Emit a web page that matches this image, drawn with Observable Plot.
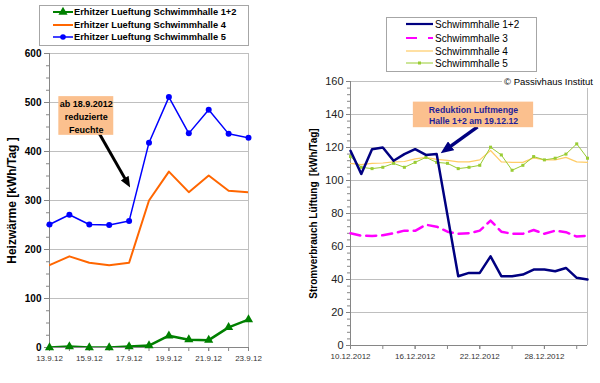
<!DOCTYPE html>
<html>
<head>
<meta charset="utf-8">
<script src="https://cdn.jsdelivr.net/npm/d3@7"></script>
<script src="https://cdn.jsdelivr.net/npm/@observablehq/plot@0.6"></script>
<style>
html,body{margin:0;padding:0;background:#fff;}
#wrap{position:relative;width:600px;height:383px;overflow:hidden;font-family:"Liberation Sans",Arial,sans-serif;}
#wrap > svg{position:absolute;top:0;}
.box{position:absolute;border:1px solid #a6a6a6;background:#fff;box-sizing:border-box;}
.item{position:absolute;white-space:nowrap;color:#000;}
.sym{position:absolute;overflow:visible;}
</style>
</head>
<body>
<div id="wrap"></div>
<script>
// ---------------- data: left panel (Heizwärme) ----------------
const daysLeft = ["2012-09-13","2012-09-14","2012-09-15","2012-09-16","2012-09-17","2012-09-18",
                  "2012-09-19","2012-09-20","2012-09-21","2012-09-22","2012-09-23","2012-09-24"];
const erhitzer12 = [0, 2, 0, 0, 2, 4, 24, 16, 15, 41, 57, 18];
const erhitzer4  = [168, 186, 173, 168, 173, 300, 359, 317, 351, 320, 317, 355];
const erhitzer5  = [251, 271, 251, 250, 258, 418, 511, 437, 485, 436, 428, 570];
const leftSeriesNames = ["Erhitzer Lueftung Schwimmhalle 1+2","Erhitzer Lueftung Schwimmhalle 4","Erhitzer Lueftung Schwimmhalle 5"];
const leftAxisEnd = "2012-09-23";
const leftYTicks = [0, 100, 200, 300, 400, 500, 600];
const leftYMinor = [25,50,75,125,150,175,225,250,275,325,350,375,425,450,475,525,550,575];
const leftXLabels = ["2012-09-13","2012-09-15","2012-09-17","2012-09-19","2012-09-21","2012-09-23"];
const leftYLabel = "Heizwärme [kWh/Tag ]";
const leftNote = [{text:"ab 18.9.2012\nreduzierte\nFeuchte",
  bx1:"2012-09-13T11:15", bx2:"2012-09-16T05:30", by1:433, by2:512,
  ax1:"2012-09-15T11:00", ay1:440, ax2:"2012-09-16T21:20", ay2:338}];

// ---------------- data: right panel (Stromverbrauch) ----------------
const daysRight = ["2012-12-10","2012-12-11","2012-12-12","2012-12-13","2012-12-14","2012-12-15",
  "2012-12-16","2012-12-17","2012-12-18","2012-12-19","2012-12-20","2012-12-21","2012-12-22",
  "2012-12-23","2012-12-24","2012-12-25","2012-12-26","2012-12-27","2012-12-28","2012-12-29",
  "2012-12-30","2012-12-31","2013-01-01"];
const halle12 = [118,104,119,120,112,116,119,115.5,116,79,42,44,44,54,42,42,43,46,46,45,47,41,40];
const halle3  = [68,66.5,66.4,66.8,68,69.6,69.5,73.2,72,69,67.7,68,69.6,75.7,69,67.7,67.7,70,67.7,69.6,68.7,66,66.5];
const halle4  = [110.4,109.6,110.4,110.6,111.3,111.5,113.1,114,112.8,112.2,111.3,111.3,112.5,118.2,111.3,111,111,113.7,112.5,112.5,114,111.3,111];
const halle5  = [114.5,108,107.2,108,110.4,108,111,114,111,110.4,107.2,108,109.2,120.2,115.5,106.2,109.2,114.5,112.5,113.5,116,122.2,113.5];
const rightSeriesNames = ["Schwimmhalle 1+2","Schwimmhalle 3","Schwimmhalle 4","Schwimmhalle 5"];
const rightYTicks = [0,20,40,60,80,100,120,140,160];
const rightYMinor = [4,8,12,16,24,28,32,36,44,48,52,56,64,68,72,76,84,88,92,96,104,108,112,116,124,128,132,136,144,148,152,156];
const rightXTickDays = ["2012-12-10","2012-12-13","2012-12-16","2012-12-19","2012-12-22","2012-12-25","2012-12-28","2012-12-31"];
const rightXLabels = ["2012-12-10","2012-12-16","2012-12-22","2012-12-28"];
const rightYLabel = "Stromverbrauch Lüftung  [kWh/Tag]";
const rightNote = [{text:"Reduktion Luftmenge\nHalle 1+2 am 19.12.12",
  bx1:"2012-12-15T20:00", bx2:"2012-12-27T00:00", by1:132, by2:147.5,
  ax1:"2012-12-21T19:00", ay1:132.5, ax2:"2012-12-18T23:00", ay2:119.2}];
const copyright = "© Passivhaus Institut";

// ---------------- styles ----------------
const FONT = "Liberation Sans, Arial, sans-serif";
const GRID = "#bfbfbf", AXIS = "#868686", PEACH = "#fbc08e";
const GREEN = "#008000", ORANGE = "#ff6600", BLUE = "#0000ff";
const NAVY = "#000080", MAGENTA = "#ff00ff", GOLD = "#ffcc66", LIME = "#99cc33";

const parse = d3.utcParse("%Y-%m-%d");
const parseT = d3.utcParse("%Y-%m-%dT%H:%M");
const P = s => s.length > 10 ? parseT(s) : parse(s);

function arrowHead(svg, color, len, wid, id) {
  const ns = "http://www.w3.org/2000/svg";
  const defs = document.createElementNS(ns, "defs");
  const m = document.createElementNS(ns, "marker");
  m.setAttribute("id", id);
  m.setAttribute("viewBox", "0 0 10 10");
  m.setAttribute("refX", "4"); m.setAttribute("refY", "5");
  m.setAttribute("markerUnits", "userSpaceOnUse");
  m.setAttribute("markerWidth", len); m.setAttribute("markerHeight", wid);
  m.setAttribute("orient", "auto"); m.setAttribute("preserveAspectRatio", "none");
  const p = document.createElementNS(ns, "path");
  p.setAttribute("d", "M0,0L10,5L0,10Z"); p.setAttribute("fill", color);
  m.appendChild(p); defs.appendChild(m); svg.insertBefore(defs, svg.firstChild);
  svg.querySelectorAll('g[aria-label="link"] path, g[aria-label="link"] line')
     .forEach(el => el.setAttribute("marker-end", `url(#${id})`));
}

// ---------------- left chart ----------------
const leftData = daysLeft.map((d, i) => ({date: parse(d), a: erhitzer12[i], b: erhitzer4[i], c: erhitzer5[i]}));
const xL0 = parse(daysLeft[0]), xL1 = parse(leftAxisEnd);
const inL = leftData.filter(d => d.date <= xL1);
const fmtL = d3.utcFormat("%-d.%-m.%y");

const left = Plot.plot({
  width: 300, height: 383,
  marginLeft: 49, marginRight: 52, marginTop: 53, marginBottom: 36,
  style: {fontFamily: FONT, background: "none", overflow: "visible"},
  x: {type: "utc", domain: [xL0, xL1]},
  y: {domain: [0, 600]},
  marks: [
    Plot.ruleY(leftYTicks.filter(v => v > 0), {stroke: GRID}),
    Plot.ruleX([xL1], {stroke: GRID}),
    Plot.axisY(leftYMinor, {tickSize: 3, tickFormat: () => "", stroke: AXIS, label: null}),
    Plot.axisY(leftYTicks, {tickSize: 5, tickPadding: 3, stroke: AXIS, fill: "#000", fontSize: 10, fontWeight: "bold", label: null}),
    Plot.axisX(inL.map(d => d.date), {tickSize: 4, tickFormat: () => "", stroke: AXIS, label: null}),
    Plot.axisX(leftXLabels.map(parse), {tickSize: 4, tickPadding: 4, tickFormat: fmtL, stroke: AXIS, fill: "#333", fontSize: 8, label: null}),
    Plot.ruleX([xL0], {stroke: AXIS}),
    Plot.ruleY([0], {stroke: AXIS}),
    Plot.text([leftYLabel], {text: d => d, frameAnchor: "left", textAnchor: "middle", dx: -37, rotate: -90, fontSize: 12, fontWeight: "bold", fill: "#000"}),
    Plot.line(leftData, {x: "date", y: "b", stroke: ORANGE, strokeWidth: 2, clip: true}),
    Plot.line(leftData, {x: "date", y: "c", stroke: BLUE, strokeWidth: 1.5, clip: true}),
    Plot.dot(inL, {x: "date", y: "c", r: 3, fill: BLUE}),
    Plot.line(leftData, {x: "date", y: "a", stroke: GREEN, strokeWidth: 2.5, clip: true}),
    Plot.dot(inL, {x: "date", y: "a", symbol: "triangle", r: 3.4, fill: GREEN}),
    Plot.link(leftNote, {x1: d => P(d.ax1), y1: "ay1", x2: d => P(d.ax2), y2: "ay2", stroke: "#000", strokeWidth: 3}),
    Plot.rect(leftNote, {x1: d => P(d.bx1), x2: d => P(d.bx2), y1: "by1", y2: "by2", fill: PEACH}),
    Plot.text(leftNote, {x: d => new Date((+P(d.bx1) + +P(d.bx2)) / 2), y: d => (d.by1 + d.by2) / 2, text: "text",
      fontWeight: "bold", fontSize: 9, lineHeight: 1.4, fill: "#000"})
  ]
});
left.style.left = "0px";
arrowHead(left, "#000", 11, 9, "arrL");

// ---------------- right chart ----------------
const rightData = daysRight.map((d, i) => ({date: parse(d), a: halle12[i], b: halle3[i], c: halle4[i], e: halle5[i]}));
const xR0 = parse(daysRight[0]), xR1 = parse(daysRight[daysRight.length - 1]);
const fmtR = d3.utcFormat("%d.%m.%Y");

const right = Plot.plot({
  width: 300, height: 383,
  marginLeft: 50, marginRight: 13, marginTop: 81, marginBottom: 38,
  style: {fontFamily: FONT, background: "none", overflow: "visible"},
  x: {type: "utc", domain: [xR0, xR1]},
  y: {domain: [0, 160]},
  marks: [
    Plot.ruleY(rightYTicks.filter(v => v > 0), {stroke: GRID}),
    Plot.ruleX([xR1], {stroke: GRID}),
    Plot.axisY(rightYMinor, {tickSize: 3, tickFormat: () => "", stroke: AXIS, label: null}),
    Plot.axisY(rightYTicks, {tickSize: 4, tickPadding: 3, stroke: AXIS, fill: "#222", fontSize: 11, label: null}),
    Plot.axisX(rightXTickDays.map(parse), {tickSize: 4, tickFormat: () => "", stroke: AXIS, label: null}),
    Plot.axisX(rightXLabels.map(parse), {tickSize: 4, tickPadding: 4, tickFormat: fmtR, stroke: AXIS, fill: "#333", fontSize: 8, label: null}),
    Plot.ruleX([xR0], {stroke: AXIS}),
    Plot.ruleY([0], {stroke: AXIS}),
    Plot.text([rightYLabel], {text: d => d, frameAnchor: "left", textAnchor: "middle", dx: -37, rotate: -90, fontSize: 10, fontWeight: "bold", fill: "#000"}),
    Plot.line(rightData, {x: "date", y: "c", stroke: GOLD, strokeWidth: 1.2}),
    Plot.line(rightData, {x: "date", y: "e", stroke: LIME, strokeWidth: 1}),
    Plot.dot(rightData, {x: "date", y: "e", symbol: "square", r: 1.7, fill: LIME}),
    Plot.line(rightData, {x: "date", y: "b", stroke: MAGENTA, strokeWidth: 2.5, strokeDasharray: "10,6"}),
    Plot.line(rightData, {x: "date", y: "a", stroke: NAVY, strokeWidth: 2.5}),
    Plot.link(rightNote, {x1: d => P(d.ax1), y1: "ay1", x2: d => P(d.ax2), y2: "ay2", stroke: NAVY, strokeWidth: 3.5}),
    Plot.rect(rightNote, {x1: d => P(d.bx1), x2: d => P(d.bx2), y1: "by1", y2: "by2", fill: PEACH}),
    Plot.text(rightNote, {x: d => new Date((+P(d.bx1) + +P(d.bx2)) / 2), y: d => (d.by1 + d.by2) / 2, text: "text",
      fontWeight: "bold", fontSize: 8.7, lineHeight: 1.26, fill: "#1f1f99"})
  ]
});
right.style.left = "300px";
arrowHead(right, NAVY, 13, 11, "arrR");

const wrap = document.getElementById("wrap");
wrap.appendChild(left);
wrap.appendChild(right);

// ---------------- legends (HTML) ----------------
function add(html) { wrap.insertAdjacentHTML("beforeend", html); }
add(`<div class="box" style="left:39px;top:5px;width:210px;height:41px"></div>`);
const leftSyms = [
  `<line x1="0" y1="5" x2="20" y2="5" stroke="${GREEN}" stroke-width="2"/><path d="${d3.symbol(d3.symbolTriangle, 36)()}" transform="translate(10,5)" fill="${GREEN}"/>`,
  `<line x1="0" y1="5" x2="20" y2="5" stroke="${ORANGE}" stroke-width="2"/>`,
  `<line x1="0" y1="5" x2="20" y2="5" stroke="${BLUE}" stroke-width="1.5"/><circle cx="10" cy="5" r="2.8" fill="${BLUE}"/>`
];
const leftRowsY = [12.3, 25, 37.3];
leftSeriesNames.forEach((name, i) => {
  add(`<svg class="sym" width="20" height="10" style="left:53px;top:${leftRowsY[i] - 5}px">${leftSyms[i]}</svg>`);
  add(`<div class="item" style="left:74px;top:${leftRowsY[i] - 6}px;font-size:9.3px;line-height:12px;font-weight:bold">${name}</div>`);
});

add(`<div class="box" style="left:386px;top:17px;width:151px;height:55px"></div>`);
const rightSyms = [
  `<line x1="0" y1="5" x2="27" y2="5" stroke="${NAVY}" stroke-width="2.2"/>`,
  `<line x1="0" y1="5" x2="27" y2="5" stroke="${MAGENTA}" stroke-width="2.2" stroke-dasharray="11,11"/>`,
  `<line x1="0" y1="5" x2="27" y2="5" stroke="${GOLD}" stroke-width="1.2"/>`,
  `<line x1="0" y1="5" x2="27" y2="5" stroke="${LIME}" stroke-width="1"/><rect x="12" y="3.5" width="3" height="3" fill="${LIME}"/>`
];
const rightRowsY = [24.3, 38.3, 51, 63.3];
rightSeriesNames.forEach((name, i) => {
  add(`<svg class="sym" width="27" height="10" style="left:406px;top:${rightRowsY[i] - 5}px">${rightSyms[i]}</svg>`);
  add(`<div class="item" style="left:435px;top:${rightRowsY[i] - 6.5}px;font-size:10px;line-height:13px">${name}</div>`);
});
add(`<div class="item" style="left:502px;top:75px;font-size:9.5px;line-height:13px;background:#fff;padding:0 2px">${copyright}</div>`);
</script>
</body>
</html>
